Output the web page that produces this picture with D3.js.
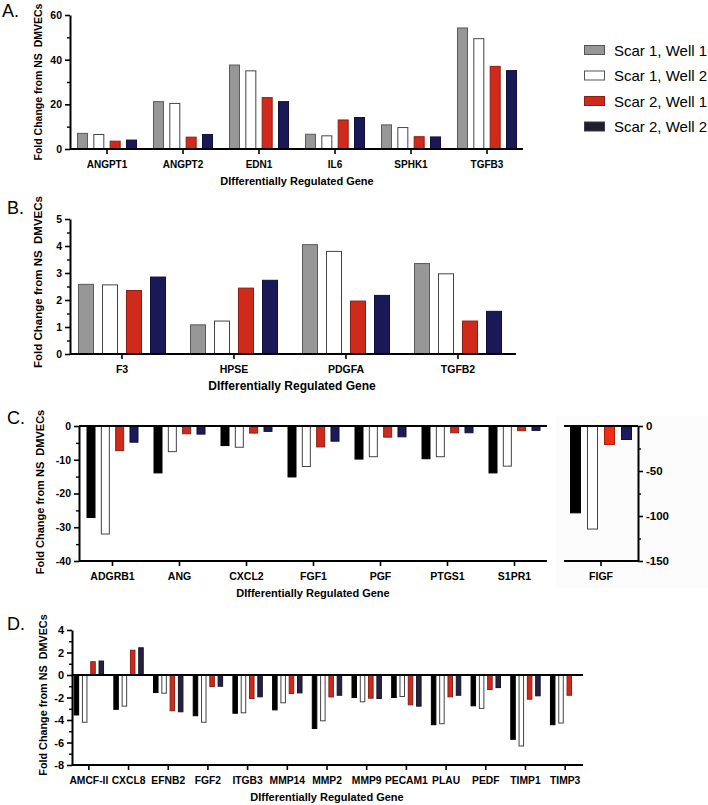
<!DOCTYPE html>
<html>
<head>
<meta charset="utf-8">
<script src="https://cdn.jsdelivr.net/npm/d3@7"></script>
<style>
  html, body { margin: 0; padding: 0; background: #ffffff; }
  svg { display: block; }
  text { font-family: 'Liberation Sans', Arial, Helvetica, sans-serif; }
</style>
</head>
<body>
<script>
// ---------------- DATA ----------------
const seriesNames = ["Scar 1, Well 1", "Scar 1, Well 2", "Scar 2, Well 1", "Scar 2, Well 2"];

// Panel A
const genesA = ["ANGPT1", "ANGPT2", "EDN1", "IL6", "SPHK1", "TGFB3"];
const a_s1w1 = [7.0, 21.2, 37.6, 6.6, 10.8, 54.2];
const a_s1w2 = [6.5, 20.4, 35.0, 5.9, 9.6, 49.4];
const a_s2w1 = [3.5, 5.3, 23.0, 13.0, 5.5, 37.0];
const a_s2w2 = [4.0, 6.5, 21.2, 14.1, 5.4, 35.1];
const ticksA = [0, 20, 40, 60];
const minorA = [10, 30, 50];

// Panel B
const genesB = ["F3", "HPSE", "PDGFA", "TGFB2"];
const b_s1w1 = [2.58, 1.08, 4.05, 3.35];
const b_s1w2 = [2.56, 1.22, 3.80, 2.97];
const b_s2w1 = [2.35, 2.44, 1.96, 1.22];
const b_s2w2 = [2.85, 2.73, 2.17, 1.58];
const ticksB = [0, 1, 2, 3, 4, 5];
const minorB = [0.5, 1.5, 2.5, 3.5, 4.5];

// Panel C (left)
const genesC = ["ADGRB1", "ANG", "CXCL2", "FGF1", "PGF", "PTGS1", "S1PR1"];
const c_s1w1 = [-27.1, -13.9, -5.8, -15.1, -9.8, -9.7, -13.9];
const c_s1w2 = [-32.0, -7.6, -6.3, -12.0, -9.1, -9.1, -11.9];
const c_s2w1 = [-7.3, -2.3, -2.1, -6.2, -3.3, -2.0, -1.4];
const c_s2w2 = [-4.8, -2.4, -1.6, -4.5, -3.2, -2.0, -1.3];
const ticksC = [0, -10, -20, -30, -40];
const minorC = [-5, -15, -25, -35];

// Panel C (right, FIGF)
const genesF = ["FIGF"];
const f_s1w1 = [-96.5];
const f_s1w2 = [-114.5];
const f_s2w1 = [-20.5];
const f_s2w2 = [-15.0];
const ticksF = [0, -50, -100, -150];
const minorF = [-25, -75, -125];

// Panel D
const genesD = ["AMCF-II", "CXCL8", "EFNB2", "FGF2", "ITGB3", "MMP14", "MMP2",
                "MMP9", "PECAM1", "PLAU", "PEDF", "TIMP1", "TIMP3"];
const d_s1w1 = [-3.55, -3.05, -1.56, -3.62, -3.40, -3.10, -4.75, -2.00, -2.00, -4.42, -2.74, -5.72, -4.42];
const d_s1w2 = [-4.20, -2.77, -1.62, -4.20, -3.36, -2.47, -4.07, -2.38, -1.91, -4.33, -2.97, -6.31, -4.27];
const d_s2w1 = [1.18, 2.20, -3.18, -1.03, -2.09, -1.65, -1.95, -2.06, -2.65, -1.94, -1.29, -2.15, -1.80];
const d_s2w2 = [1.24, 2.42, -3.27, -1.00, -1.94, -1.59, -1.80, -2.09, -2.77, -1.80, -1.12, -1.85, null];
const ticksD = [4, 2, 0, -2, -4, -6, -8];
const minorD = [3, 1, -1, -3, -5, -7];

const yLabel = "Fold Change from NS\u00a0 DMVECs";
const xLabel = "DIfferentially Regulated Gene";

// ---------------- DRAW ----------------
const W = 708, H = 805;
const svg = d3.select("body").append("svg").attr("width", W).attr("height", H);

function panel(o) {
  const g = svg.append("g");
  const x0 = d3.scaleBand().domain(o.genes).range(o.xRange)
    .paddingInner(o.pad).paddingOuter(o.pad / 2);
  const x1 = d3.scaleBand().domain(d3.range(o.values.length))
    .range([0, x0.bandwidth()]).paddingInner(o.barPad);
  const y = d3.scaleLinear().domain(o.yDomain).range(o.yRange);

  const rows = [];
  o.genes.forEach((gene, i) => o.values.forEach((vals, s) => {
    if (vals[i] != null) rows.push({ gene, s, v: vals[i] });
  }));
  g.append("g").selectAll("rect").data(rows).join("rect")
    .attr("x", d => x0(d.gene) + x1(d.s) + 0.5)
    .attr("y", d => y(Math.max(0, d.v)))
    .attr("width", x1.bandwidth() - 1)
    .attr("height", d => Math.abs(y(d.v) - y(0)))
    .attr("fill", d => o.fills[d.s])
    .attr("stroke", d => o.strokes[d.s])
    .attr("stroke-width", 1);

  if (o.zeroLine) {
    g.append("line")
      .attr("x1", o.xLine[0]).attr("x2", o.xLine[1])
      .attr("y1", y(0)).attr("y2", y(0))
      .attr("stroke", "#000").attr("stroke-width", 2);
  }

  const yBottom = o.yRange[0];
  const xa = g.append("g").attr("transform", `translate(0,${yBottom})`)
    .call(d3.axisBottom(x0).tickSize(5).tickSizeOuter(0).tickPadding(7));
  xa.select(".domain").remove();
  xa.selectAll(".tick line").attr("stroke", "#000").attr("stroke-width", 1.6);
  xa.selectAll(".tick text").attr("fill", "#000")
    .style("font-size", o.xFont + "px").style("font-weight", "bold");
  g.append("line").attr("x1", o.xLine[0]).attr("x2", o.xLine[1])
    .attr("y1", yBottom).attr("y2", yBottom)
    .attr("stroke", "#000").attr("stroke-width", 2);

  const axisFn = o.yAxisRight ? d3.axisRight : d3.axisLeft;
  const ya = g.append("g").attr("transform", `translate(${o.yAxisX},0)`)
    .call(axisFn(y).tickValues(o.ticks).tickSize(5).tickSizeOuter(0)
      .tickPadding(3).tickFormat(d => String(d)));
  ya.select(".domain").attr("stroke", "#000").attr("stroke-width", 2);
  ya.selectAll(".tick line").attr("stroke", "#000").attr("stroke-width", 1.6);
  ya.selectAll(".tick text").attr("fill", "#000")
    .style("font-size", o.yFont + "px").style("font-weight", "bold");
  const ym = g.append("g").attr("transform", `translate(${o.yAxisX},0)`)
    .call(axisFn(y).tickValues(o.minor).tickSize(3).tickSizeOuter(0).tickFormat(""));
  ym.select(".domain").remove();
  ym.selectAll(".tick line").attr("stroke", "#000").attr("stroke-width", 1.4);

  return { x0, y };
}

function labels(o) {
  if (o.letter) {
    svg.append("text").attr("x", o.letter[0]).attr("y", o.letter[1])
      .style("font-size", "18px").attr("fill", "#000").text(o.letter[2]);
  }
  if (o.yTitle) {
    svg.append("text")
      .attr("transform", `translate(${o.yTitle[0]},${o.yTitle[1]}) rotate(-90)`)
      .attr("text-anchor", "middle")
      .style("font-size", o.yTitle[2] + "px").style("font-weight", "bold")
      .style("white-space", "pre").attr("fill", "#000").text(yLabel);
  }
  if (o.xTitle) {
    svg.append("text").attr("x", o.xTitle[0]).attr("y", o.xTitle[1])
      .attr("text-anchor", "middle")
      .style("font-size", o.xTitle[2] + "px").style("font-weight", "bold")
      .attr("fill", "#000").text(xLabel);
  }
}

const fillsAB = ["#979797", "#ffffff", "#cf2a1a", "#1b1858"];
const strokesAB = ["#5a5a5a", "#444444", "#8e1d12", "#121035"];
const fillsC = ["#000000", "#ffffff", "#cf2a1a", "#1c1a5c"];
const strokesC = ["#000000", "#444444", "#8e1d12", "#121035"];
const fillsF = ["#000000", "#ffffff", "#f22c10", "#1c1a5c"];
const strokesF = ["#000000", "#444444", "#a81d0a", "#121035"];
const fillsD = ["#000000", "#ffffff", "#cc2a1c", "#24223e"];
const strokesD = ["#000000", "#444444", "#8e1d12", "#14132a"];

// very light background behind FIGF sub-graph
svg.append("rect").attr("x", 556).attr("y", 416).attr("width", 152).attr("height", 172)
  .attr("fill", "#fcfcfc");

// Panel A
panel({
  genes: genesA, values: [a_s1w1, a_s1w2, a_s2w1, a_s2w2],
  xRange: [69, 525], xLine: [70, 523], pad: 0.21, barPad: 0.327,
  yDomain: [0, 60], yRange: [149, 15], yAxisX: 70,
  ticks: ticksA, minor: minorA, fills: fillsAB, strokes: strokesAB,
  xFont: 10, yFont: 10.5
});
labels({ letter: [2, 17, "A."], yTitle: [42, 82, 10.5], xTitle: [297, 185, 11] });

// Legend
const legend = svg.append("g");
seriesNames.forEach((name, i) => {
  const yy = 50 + i * 25.5;
  legend.append("rect").attr("x", 584.5).attr("y", yy - 4.5).attr("width", 20).attr("height", 9)
    .attr("fill", ["#979797", "#ffffff", "#cc2a1a", "#1f1f2b"][i])
    .attr("stroke", ["#555555", "#555555", "#8e1d12", "#3a3a55"][i]).attr("stroke-width", 1);
  legend.append("text").attr("x", 614).attr("y", yy + 5.5)
    .style("font-size", "15px").attr("fill", "#000").text(name);
});

// Panel B
panel({
  genes: genesB, values: [b_s1w1, b_s1w2, b_s2w1, b_s2w2],
  xRange: [66, 514], xLine: [70, 516], pad: 0.214, barPad: 0.333,
  yDomain: [0, 5], yRange: [354, 219], yAxisX: 70,
  ticks: ticksB, minor: minorB, fills: fillsAB, strokes: strokesAB,
  xFont: 10.5, yFont: 10.5
});
labels({ letter: [7, 214, "B."], yTitle: [42, 282, 11.5], xTitle: [292, 390, 12] });

// Panel C left
panel({
  genes: genesC, values: [c_s1w1, c_s1w2, c_s2w1, c_s2w2],
  xRange: [79, 548], xLine: [79, 547], pad: 0.224, barPad: 0.372,
  yDomain: [-40, 0], yRange: [561, 426], yAxisX: 79, zeroLine: true,
  ticks: ticksC, minor: minorC, fills: fillsC, strokes: strokesC,
  xFont: 10.5, yFont: 10.5
});
labels({ letter: [7, 424, "C."], yTitle: [44, 492, 11], xTitle: [313, 597, 11] });

// Panel C right (FIGF)
panel({
  genes: genesF, values: [f_s1w1, f_s1w2, f_s2w1, f_s2w2],
  xRange: [564, 638], xLine: [564, 638], pad: 0.162, barPad: 0.353,
  yDomain: [-150, 0], yRange: [561, 426], yAxisX: 638, yAxisRight: true, zeroLine: true,
  ticks: ticksF, minor: minorF, fills: fillsF, strokes: strokesF,
  xFont: 10.5, yFont: 11.5
});

// Panel D
panel({
  genes: genesD, values: [d_s1w1, d_s1w2, d_s2w1, d_s2w2],
  xRange: [69, 585], xLine: [72, 583], pad: 0.234, barPad: 0.337,
  yDomain: [-8, 4], yRange: [765, 630], yAxisX: 72, zeroLine: true,
  ticks: ticksD, minor: minorD, fills: fillsD, strokes: strokesD,
  xFont: 10.3, yFont: 11
});
labels({ letter: [7, 630, "D."], yTitle: [47, 695, 10.8], xTitle: [327, 801, 11] });
</script>
</body>
</html>
